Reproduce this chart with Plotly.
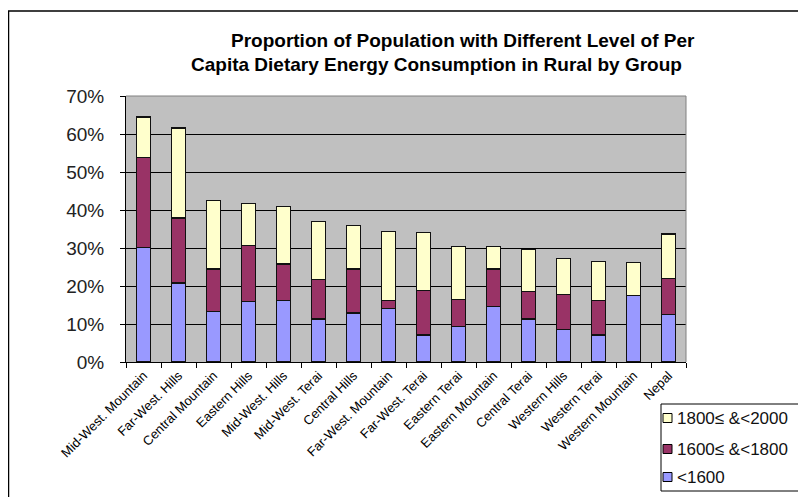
import plotly.graph_objects as go

categories = ["Mid-West. Mountain", "Far-West. Hills", "Central Mountain", "Eastern Hills",
              "Mid-West. Hills", "Mid-West. Terai", "Central Hills", "Far-West. Mountain",
              "Far-West. Terai", "Eastern Terai", "Eastern Mountain", "Central Terai",
              "Western Hills", "Western Terai", "Western Mountain", "Nepal"]
below_1600 = [30.2, 20.8, 13.2, 16.0, 16.2, 11.3, 12.9, 14.0, 7.1, 9.4, 14.7, 11.3, 8.6, 7.1, 17.4, 12.5]
from_1600_1800 = [23.6, 17.1, 11.3, 14.7, 9.6, 10.5, 11.6, 2.2, 11.8, 7.1, 9.8, 7.3, 9.1, 9.1, 0.0, 9.4]
from_1800_2000 = [10.7, 23.7, 17.9, 11.0, 15.1, 15.2, 11.5, 18.2, 15.2, 13.8, 5.9, 11.0, 9.5, 10.3, 8.7, 11.8]
series_names = ["<1600", "1600\u2264 &<1800", "1800\u2264 &<2000"]
series_colors = ["#9999FF", "#993366", "#FFFFCC"]
y_ticks = [0, 10, 20, 30, 40, 50, 60, 70]

FONT = "Liberation Sans, Arial, sans-serif"
W, H = 806, 497
OFF = 8  # page body margin
ML, MT = 126 - OFF, 96 - OFF
PW, PH = 560, 266
MR, MB = W - ML - PW, H - MT - PH

def px(x):
    return (x - OFF - ML) / PW

def py(y):
    return (MT + PH - (y - OFF)) / PH

fig = go.Figure()
for name, vals, col in zip(series_names, [below_1600, from_1600_1800, from_1800_2000], series_colors):
    fig.add_trace(go.Bar(x=categories, y=vals, name=name, showlegend=False,
                         marker=dict(color=col, line=dict(color="#111", width=1.2))))

fig.update_layout(
    width=W, height=H,
    margin=dict(l=ML, r=MR, t=MT, b=MB, autoexpand=False),
    barmode="stack", bargap=0.6,
    paper_bgcolor="white", plot_bgcolor="#C0C0C0",
    font=dict(family=FONT, color="black"),
)
fig.update_yaxes(range=[0, 70], tickvals=y_ticks, ticktext=[f"{v}%" for v in y_ticks],
                 showgrid=True, gridcolor="black", gridwidth=1,
                 showline=True, linecolor="black", linewidth=1,
                 ticks="outside", ticklen=5, tickcolor="black",
                 tickfont=dict(size=19, family=FONT, color="#222"),
                 ticklabelstandoff=12, zeroline=False)
fig.update_xaxes(tickangle=-45, tickson="boundaries", ticks="outside", ticklen=5, tickcolor="black",
                 showline=True, linecolor="black", linewidth=1,
                 tickfont=dict(size=13, family=FONT, color="black"))

# plot area top/right gray border
fig.add_shape(type="line", xref="paper", yref="paper", x0=0, x1=1, y0=1, y1=1,
              line=dict(color="#808080", width=1))
fig.add_shape(type="line", xref="paper", yref="paper", x0=1, x1=1, y0=0, y1=1,
              line=dict(color="#808080", width=1))
# outer chart border
fig.add_shape(type="rect", xref="paper", yref="paper", x0=px(8.5), x1=px(805), y0=py(530), y1=py(11),
              line=dict(color="black", width=1.5), layer="below")

# titles
fig.add_annotation(text="<b>Proportion of Population with Different Level of Per</b>",
                   xref="paper", yref="paper", x=px(463), y=py(40), xanchor="center", yanchor="middle",
                   showarrow=False, font=dict(size=19, family=FONT, color="black"))
fig.add_annotation(text="<b>Capita Dietary Energy Consumption in Rural by Group</b>",
                   xref="paper", yref="paper", x=px(436), y=py(64), xanchor="center", yanchor="middle",
                   showarrow=False, font=dict(size=19, family=FONT, color="black"))

# legend (drawn manually to match the compact Excel legend)
fig.add_shape(type="rect", xref="paper", yref="paper", x0=px(661), x1=px(804), y0=py(491), y1=py(404),
              line=dict(color="black", width=1), fillcolor="white")
legend_y = [477, 449, 418]
for name, col, ly in zip(series_names, series_colors, legend_y):
    fig.add_shape(type="rect", xref="paper", yref="paper", x0=px(663), x1=px(672),
                  y0=py(ly + 4.5), y1=py(ly - 4.5),
                  line=dict(color="black", width=1), fillcolor=col)
    fig.add_annotation(text=name, xref="paper", yref="paper", x=px(675), y=py(ly),
                       xanchor="left", yanchor="middle", showarrow=False,
                       font=dict(size=17, family=FONT, color="#111"))

fig.write_html("out.html")
